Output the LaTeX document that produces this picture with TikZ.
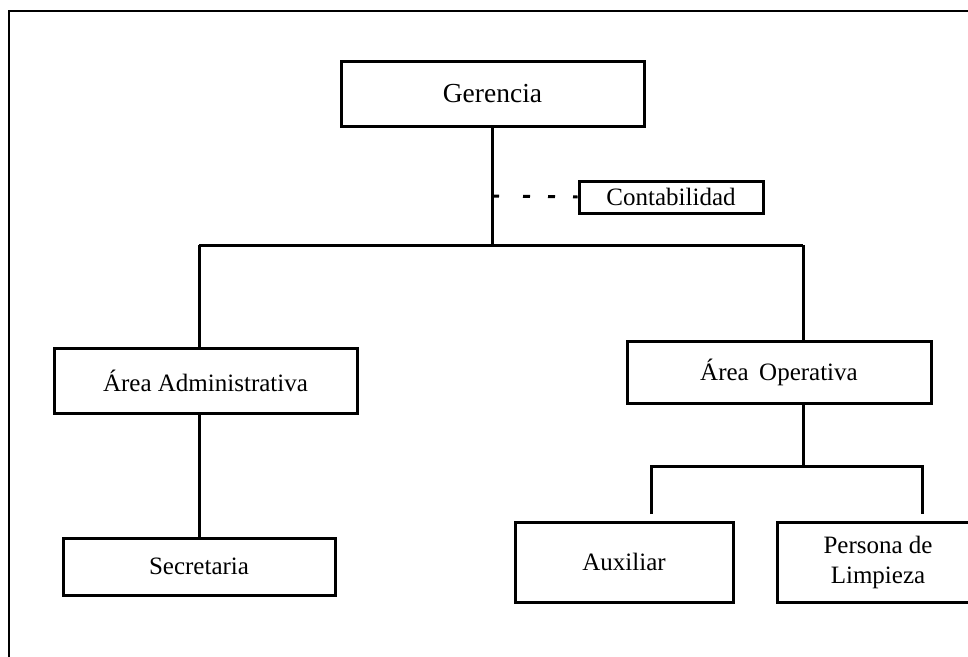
\documentclass[tikz,border=0pt]{standalone}
\usepackage{fontspec}
\setmainfont{Liberation Serif}
\begin{document}
\begin{tikzpicture}[x=1pt,y=-1pt,
    cargo/.style={draw, line width=3pt, inner sep=0pt, align=center,
      font=\fontsize{25}{30}\selectfont},
    enlace/.style={line width=3pt},
    punteado/.style={line width=3pt,
      dash pattern=on 7pt off 24pt on 7pt off 18pt on 7pt off 18pt on 7pt off 18pt}]
        \clip (0,0) rectangle (968,656);
        % frame round the chart
        \draw[line width=2pt] (9,11) rectangle (990,680);
        % boxes of the chart
        \node[cargo, minimum width=303, minimum height=65, font=\fontsize{27.5}{33}\selectfont]
                                                           (gerencia)     at (492.5, 93.5) {Gerencia};
        \node[cargo, minimum width=184, minimum height=32] (contabilidad) at (671, 197) {Contabilidad};
        \node[cargo, minimum width=303, minimum height=65] (admin)        at (205.5, 380.5) {Área Administrativa};
        \node[cargo, minimum width=304, minimum height=62] (operativa)    at (779, 372) {Área\, Operativa};
        \node[cargo, minimum width=272, minimum height=57] (secretaria)   at (199, 566.5) {Secretaria};
        \node[cargo, minimum width=218, minimum height=80] (auxiliar)     at (624, 562) {Auxiliar};
        \node[cargo, minimum width=202, minimum height=80] (limpieza)     at (878, 562) {Persona de\\Limpieza};
        % coordinates for the branches
        \coordinate (tronco)   at (492, 245);
        \coordinate (ramaizq)  at (199, 245);
        \coordinate (ramader)  at (803, 245);
        \coordinate (puente)   at (492, 196);
        \coordinate (bajoope)  at (803, 466);
        \coordinate (ramaaux)  at (651, 466);
        \coordinate (ramalim)  at (922, 466);
        \coordinate (finaux)   at (651, 514);
        \coordinate (finlim)   at (922, 514);
        % drawing the branches
        \draw[enlace] (gerencia.south -| tronco) -- (tronco);
        \draw[enlace] (ramaizq) -- (ramader);
        \draw[punteado] (puente) -- (contabilidad.west);
        \draw[enlace] (ramaizq) -- (ramaizq |- admin.north);
        \draw[enlace] (ramaizq |- admin.south) -- (ramaizq |- secretaria.north);
        \draw[enlace] (ramader) -- (ramader |- operativa.north);
        \draw[enlace] (ramader |- operativa.south) -- (bajoope);
        \draw[enlace] (finaux) -- (ramaaux) -- (ramalim) -- (finlim);
\end{tikzpicture}
\end{document}
